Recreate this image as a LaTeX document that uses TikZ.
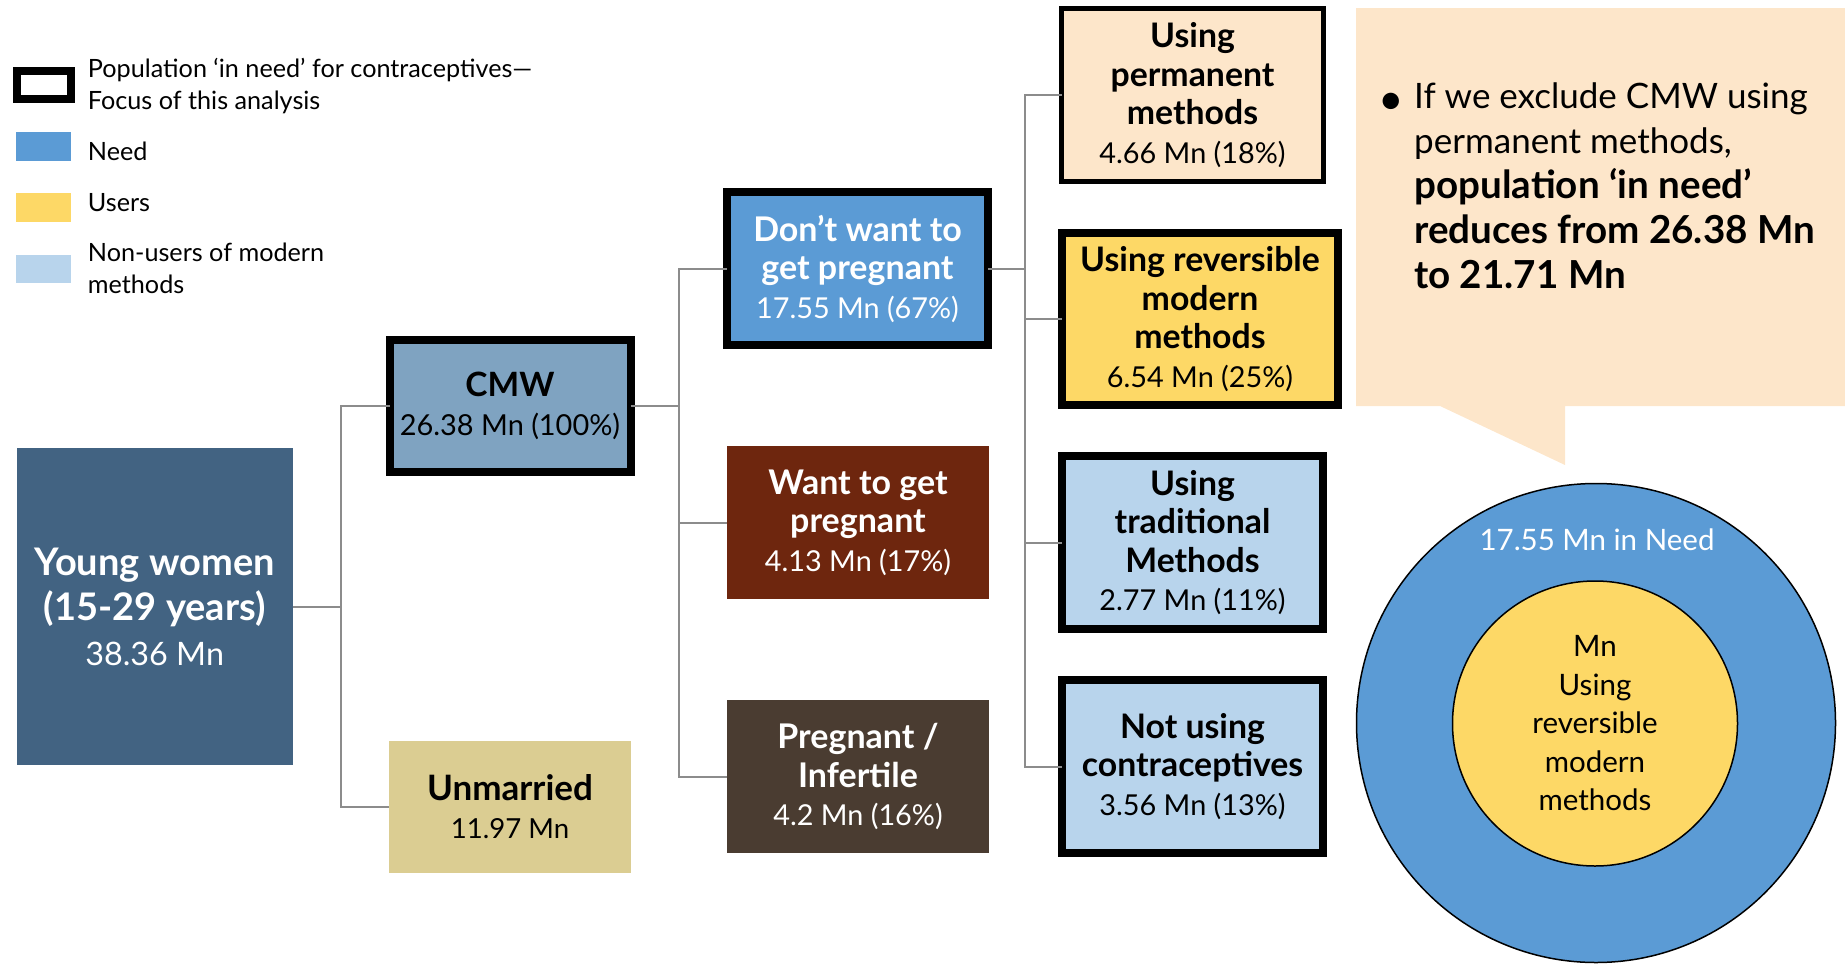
\documentclass[tikz,border=0pt]{standalone}
\usepackage{fontspec}
\setmainfont{Lato}
\definecolor{youngBlue}{HTML}{426382}
\definecolor{cmwBlue}{HTML}{7FA3C1}
\definecolor{needBlue}{HTML}{5B9BD5}
\definecolor{wantBrown}{HTML}{6E260E}
\definecolor{pregBrown}{HTML}{4A3C31}
\definecolor{unmTan}{HTML}{DBCD92}
\definecolor{peach}{HTML}{FDE6CA}
\definecolor{userYellow}{HTML}{FDD866}
\definecolor{nonuserBlue}{HTML}{B8D4EC}
\definecolor{connGray}{HTML}{8C8C8C}
% regular size and line pitch for a block of text
\newcommand\setfs[2]{\fontsize{#1}{#2}\selectfont}
% a bold line at its own size, keeping the pitch of the block
\newcommand\bx[2]{{\fontsize{#1}{\baselineskip}\selectfont\bfseries #2}}
\begin{document}
\begin{tikzpicture}[x=1pt,y=-1pt,
  box/.style={rectangle, inner sep=0pt, outer sep=0pt, align=center},
  focus/.style={draw=black, line width=8pt},
  conn/.style={draw=connGray, line width=2pt},
  swatch/.style={rectangle, inner sep=0pt, minimum width=55, minimum height=28.4},
  legtext/.style={anchor=base west, inner sep=0pt, font=\setfs{25.2}{32}},
  coltext/.style={font=\setfs{28.8}{38.5}},
]
\useasboundingbox (0,0) rectangle (1845,964);

% ---------- legend ----------
\node[rectangle, draw=black, line width=8pt, inner sep=0pt,
      minimum width=54, minimum height=28] (lgfocus) at (44,85) {};
\node[legtext] (lgfocustxt) at (87.7,77.7)
  {\parbox[t]{600pt}{\raggedright Population ‘in need’ for contraceptives—\\Focus of this analysis}};
\node[swatch, fill=needBlue] (lgneed) at (43.5,146.5) {};
\node[legtext] (lgneedtxt) at (87.7,160.7) {Need};
\node[swatch, fill=userYellow] (lguser) at (43.5,207.5) {};
\node[legtext] (lgusertxt) at (87.7,211.7) {Users};
\node[swatch, fill=nonuserBlue] (lgnon) at (43.5,269.2) {};
\node[legtext] (lgnontxt) at (87.7,261.7)
  {\parbox[t]{400pt}{\raggedright Non-users of modern\\methods}};

% ---------- first level ----------
\node[box, fill=youngBlue, text=white, minimum width=276, minimum height=317,
      font=\setfs{32.3}{45}] (young) at (154.7,606.7)
  {\bx{38}{Young women}\\\bx{38}{(15-29 years)}\\38.36 Mn};

\node[box, focus, fill=cmwBlue, minimum width=241, minimum height=132,
      font=\setfs{28.9}{38.7}] (cmw) at (510,406)
  {\bx{33.5}{CMW}\\26.38 Mn (100\%)};
\node[box, fill=unmTan, minimum width=242, minimum height=132,
      font=\setfs{27.6}{38}] (unm) at (510,807)
  {\bx{35}{Unmarried}\\11.97 Mn};

% ---------- second level ----------
\node[box, focus, fill=needBlue, text=white, minimum width=261, minimum height=153,
      coltext] (dw) at (857.5,268.5)
  {\bx{34}{Don’t want to}\\\bx{34}{get pregnant}\\17.55 Mn (67\%)};
\node[box, fill=wantBrown, text=white, minimum width=262, minimum height=153,
      coltext] (want) at (858,522.5)
  {\bx{34}{Want to get}\\\bx{34}{pregnant}\\4.13 Mn (17\%)};
\node[box, fill=pregBrown, text=white, minimum width=262, minimum height=153,
      coltext] (preg) at (858,776.5)
  {\bx{34}{Pregnant /}\\\bx{34}{Infertile}\\4.2 Mn (16\%)};

% ---------- third level ----------
\node[box, draw=black, line width=5pt, fill=peach, minimum width=262, minimum height=173,
      coltext] (perm) at (1192.5,95)
  {\bx{33.8}{Using}\\\bx{33.8}{permanent}\\\bx{33.8}{methods}\\4.66 Mn (18\%)};
\node[box, focus, fill=userYellow, minimum width=276, minimum height=172,
      coltext] (rev) at (1200,319)
  {\bx{33.8}{Using reversible}\\\bx{33.8}{modern}\\\bx{33.8}{methods}\\6.54 Mn (25\%)};
\node[box, focus, fill=nonuserBlue, minimum width=261, minimum height=173,
      coltext] (trad) at (1192.5,542.5)
  {\bx{33.8}{Using}\\\bx{33.8}{traditional}\\\bx{33.8}{Methods}\\2.77 Mn (11\%)};
\node[box, focus, fill=nonuserBlue, minimum width=261, minimum height=173,
      coltext] (notu) at (1192.5,766.5)
  {\bx{33.8}{Not using}\\\bx{33.8}{contraceptives}\\3.56 Mn (13\%)};

% ---------- connectors ----------
\coordinate (j1) at (340.5,606.7);
\coordinate (j2) at (678.5,406);
\coordinate (j3) at (1025,268.5);
\draw[conn] (young.east) -- (j1);
\draw[conn] (j1) |- (cmw.west);
\draw[conn] (j1) |- (unm.west);
\draw[conn] (cmw.east) -- (j2);
\draw[conn] (j2) |- (dw.west);
\draw[conn] (j2) |- (want.west);
\draw[conn] (j2) |- (preg.west);
\draw[conn] (dw.east) -- (j3);
\draw[conn] (j3) |- (perm.west);
\draw[conn] (j3) |- (rev.west);
\draw[conn] (j3) |- (trad.west);
\draw[conn] (j3) |- (notu.west);

% ---------- callout ----------
\fill[peach] (1356,8) -- (1845,8) -- (1845,406) -- (1565,406) -- (1565,465)
  -- (1440,406) -- (1356,406) -- cycle;
\node[anchor=base west, inner sep=0pt, font=\setfs{35}{45}] (note) at (1414,108)
  {\parbox[t]{430pt}{\raggedright
   \leavevmode\llap{\raisebox{-6pt}{\fontsize{44}{45}\selectfont\textbullet}\hspace{10pt}}If we exclude CMW using\\
   permanent methods,\\
   \bx{38.6}{population ‘in need’}\\
   \bx{38.6}{reduces from 26.38 Mn}\\
   \bx{38.6}{to 21.71 Mn}}};

% ---------- nested circles ----------
\node[circle, draw=black, line width=1.5pt, fill=needBlue, inner sep=0pt,
      minimum size=479] (outer) at (1596,723) {};
\node[anchor=base, inner sep=0pt, text=white, font=\setfs{29.5}{38}] (outertxt)
  at (1597,550) {17.55 Mn in Need};
\node[circle, draw=black, line width=1.5pt, fill=userYellow, inner sep=0pt,
      minimum size=285, align=center, font=\setfs{29.5}{38.5}] (inner) at (1595,723.5)
  {Mn\\Using\\reversible\\modern\\methods};
\end{tikzpicture}
\end{document}
